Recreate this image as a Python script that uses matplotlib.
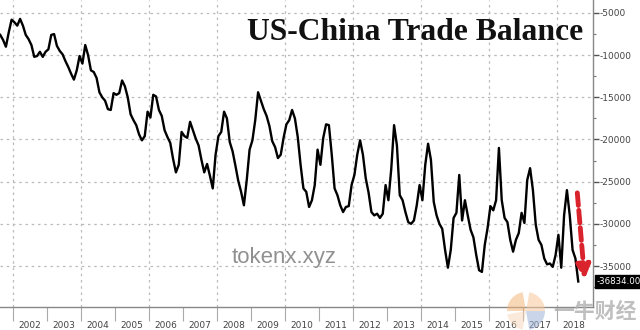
import matplotlib
matplotlib.use("Agg")
import matplotlib.pyplot as plt
from matplotlib.patches import Wedge
import numpy as np

plt.rcParams['axes.unicode_minus'] = False

# monthly US-China goods trade balance, USD mn
START_YEAR = 2001.625
balance = [
    -7600, -8200, -9000, -7300, -5800, -6100, -6500, -5700, -6500, -7600, -8100, -8800,
    -10200, -10100, -9600, -10200, -9600, -9300, -7600, -7500, -8900, -9500, -9900, -10700,
    -11400, -12200, -12900, -11800, -10100, -11000, -8800, -10000, -11800, -12000, -12700, -14400,
    -15000, -15400, -16400, -16500, -14500, -14700, -14500, -13000, -13700, -15000, -17000, -17700,
    -18300, -19400, -20100, -19600, -16700, -17400, -14700, -14900, -16500, -17200, -18900, -19700,
    -20400, -22300, -23900, -23000, -19100, -19600, -19800, -17900, -18900, -19900, -20700, -22400,
    -23900, -22900, -24300, -25800, -21800, -19600, -19100, -16700, -17500, -20300, -21400, -23100,
    -24900, -26200, -27800, -24800, -21200, -20100, -17700, -14400, -15400, -16400, -17200, -18400,
    -20200, -20900, -22200, -21800, -19800, -18200, -17700, -16500, -17500, -19700, -23000, -25800,
    -26200, -28000, -27200, -25400, -21200, -23000, -19800, -18200, -18300, -21800, -25800, -26600,
    -27800, -28600, -28000, -27900, -25400, -24200, -21800, -20100, -21800, -24600, -26300, -28600,
    -29000, -28800, -29300, -28800, -25400, -27200, -23500, -18300, -20700, -26600, -27200, -28600,
    -29800, -30000, -29600, -27800, -25400, -27200, -23000, -20500, -22400, -27400, -29000, -30000,
    -30600, -33100, -35200, -33100, -29300, -28700, -24200, -29600, -27200, -29000, -30700, -31600,
    -33700, -35500, -35700, -32500, -30500, -27900, -28400, -27200, -21000, -27200, -29300, -29800,
    -31900, -33300, -31900, -31100, -28700, -29900, -24800, -23400, -26000, -30100, -31900, -32500,
    -34100, -34800, -34700, -35100, -33700, -31300, -35200, -29000, -26000, -29000, -33100, -34100,
    -36834,
]
years = list(range(2002, 2019))
y_ticks = [-5000, -10000, -15000, -20000, -25000, -30000, -35000]
last_label = "-36834.00"

t = START_YEAR + np.arange(len(balance)) / 12.0

fig = plt.figure(figsize=(6.4, 3.3), dpi=100)
ax = fig.add_axes([0, 23 / 330, 593 / 640, 307 / 330])

ax.plot(t, balance, color='black', lw=1.7, solid_joinstyle='round', zorder=3)

ax.set_xlim(2002 - 13 / 34, 2002 + 580 / 34)
ax.set_ylim(-39860, -3460)

# grid
for yv in y_ticks:
    ax.axhline(yv, color='#bbbbbb', lw=0.9, ls=(0, (2, 3)), zorder=1)
for yr in range(2002, 2019, 2):
    ax.axvline(yr, color='#bbbbbb', lw=0.9, ls=(0, (2, 3)), zorder=1)

# axes
for s in ['top', 'left']:
    ax.spines[s].set_visible(False)
for s in ['right', 'bottom']:
    ax.spines[s].set_color('#888888')
    ax.spines[s].set_linewidth(1.0)

ax.yaxis.tick_right()
ax.set_yticks(y_ticks)
ax.set_yticklabels([str(v) for v in y_ticks])
ax.set_yticks(np.arange(-37500, -2500, 2500), minor=True)
ax.tick_params(axis='y', which='major', length=4, width=1, color='#555555',
               labelsize=6.5, labelcolor='#444444', pad=1)
ax.tick_params(axis='y', which='minor', length=2, width=0.8, color='#777777')

ax.set_xticks(years)
ax.set_xticklabels([])
ax.set_xticks([y + 0.5 for y in years], minor=True)
ax.set_xticklabels([str(y) for y in years], minor=True)
ax.tick_params(axis='x', which='major', length=10, width=0.8, color='#aaaaaa')
ax.tick_params(axis='x', which='minor', length=0, labelsize=6.5,
               labelcolor='#444444', pad=10)

# title
ax.text(0.983, 0.893, "US-China Trade Balance", transform=ax.transAxes,
        ha='right', va='center', fontsize=22.8, fontweight='bold',
        family='Liberation Serif', color='#111111')

# red dashed arrow
ax.annotate("", xy=(2018.82, -36900), xytext=(2018.59, -26000),
            arrowprops=dict(arrowstyle='-|>,head_width=0.4,head_length=0.8',
                            color='#d9232d', lw=3.5, ls=(0, (2.6, 1.0))),
            zorder=5)

# last value label
ax.annotate(last_label, xy=(1.0, balance[-1]), xycoords=('axes fraction', 'data'),
            xytext=(2.5, 0), textcoords='offset points', ha='left', va='center',
            fontsize=6.2, color='white',
            bbox=dict(boxstyle='square,pad=0.2', fc='black', ec='black'),
            annotation_clip=False)

# watermarks
fig.text(284 / 640, 1 - 257 / 330, "tokenx.xyz", ha='center', va='center',
         fontsize=16, color='#909090', family='Liberation Sans')
fig.text(595 / 640, 1 - 311 / 330, "一牛财经", ha='center', va='center',
         fontsize=15, color='#b0b0b0', alpha=0.8, fontweight='bold',
         family=['Noto Sans CJK SC', 'DejaVu Sans'])
logo = fig.add_axes([507 / 640, 0 / 330, 38 / 640, 38 / 330])
logo.set_xlim(-1, 1)
logo.set_ylim(-1, 1)
logo.set_aspect('equal')
logo.axis('off')
logo.add_patch(Wedge((0, 0), 1, 100, 180, fc='#f4b67a', alpha=0.55))
logo.add_patch(Wedge((0, 0), 1, 0, 80, fc='#f9c89a', alpha=0.55))
logo.add_patch(Wedge((0, 0), 1, 280, 360, fc='#9fb4d8', alpha=0.55))
logo.add_patch(Wedge((0, 0), 1, 190, 260, fc='#f7d2b0', alpha=0.45))

fig.savefig("out.png", dpi=100)
